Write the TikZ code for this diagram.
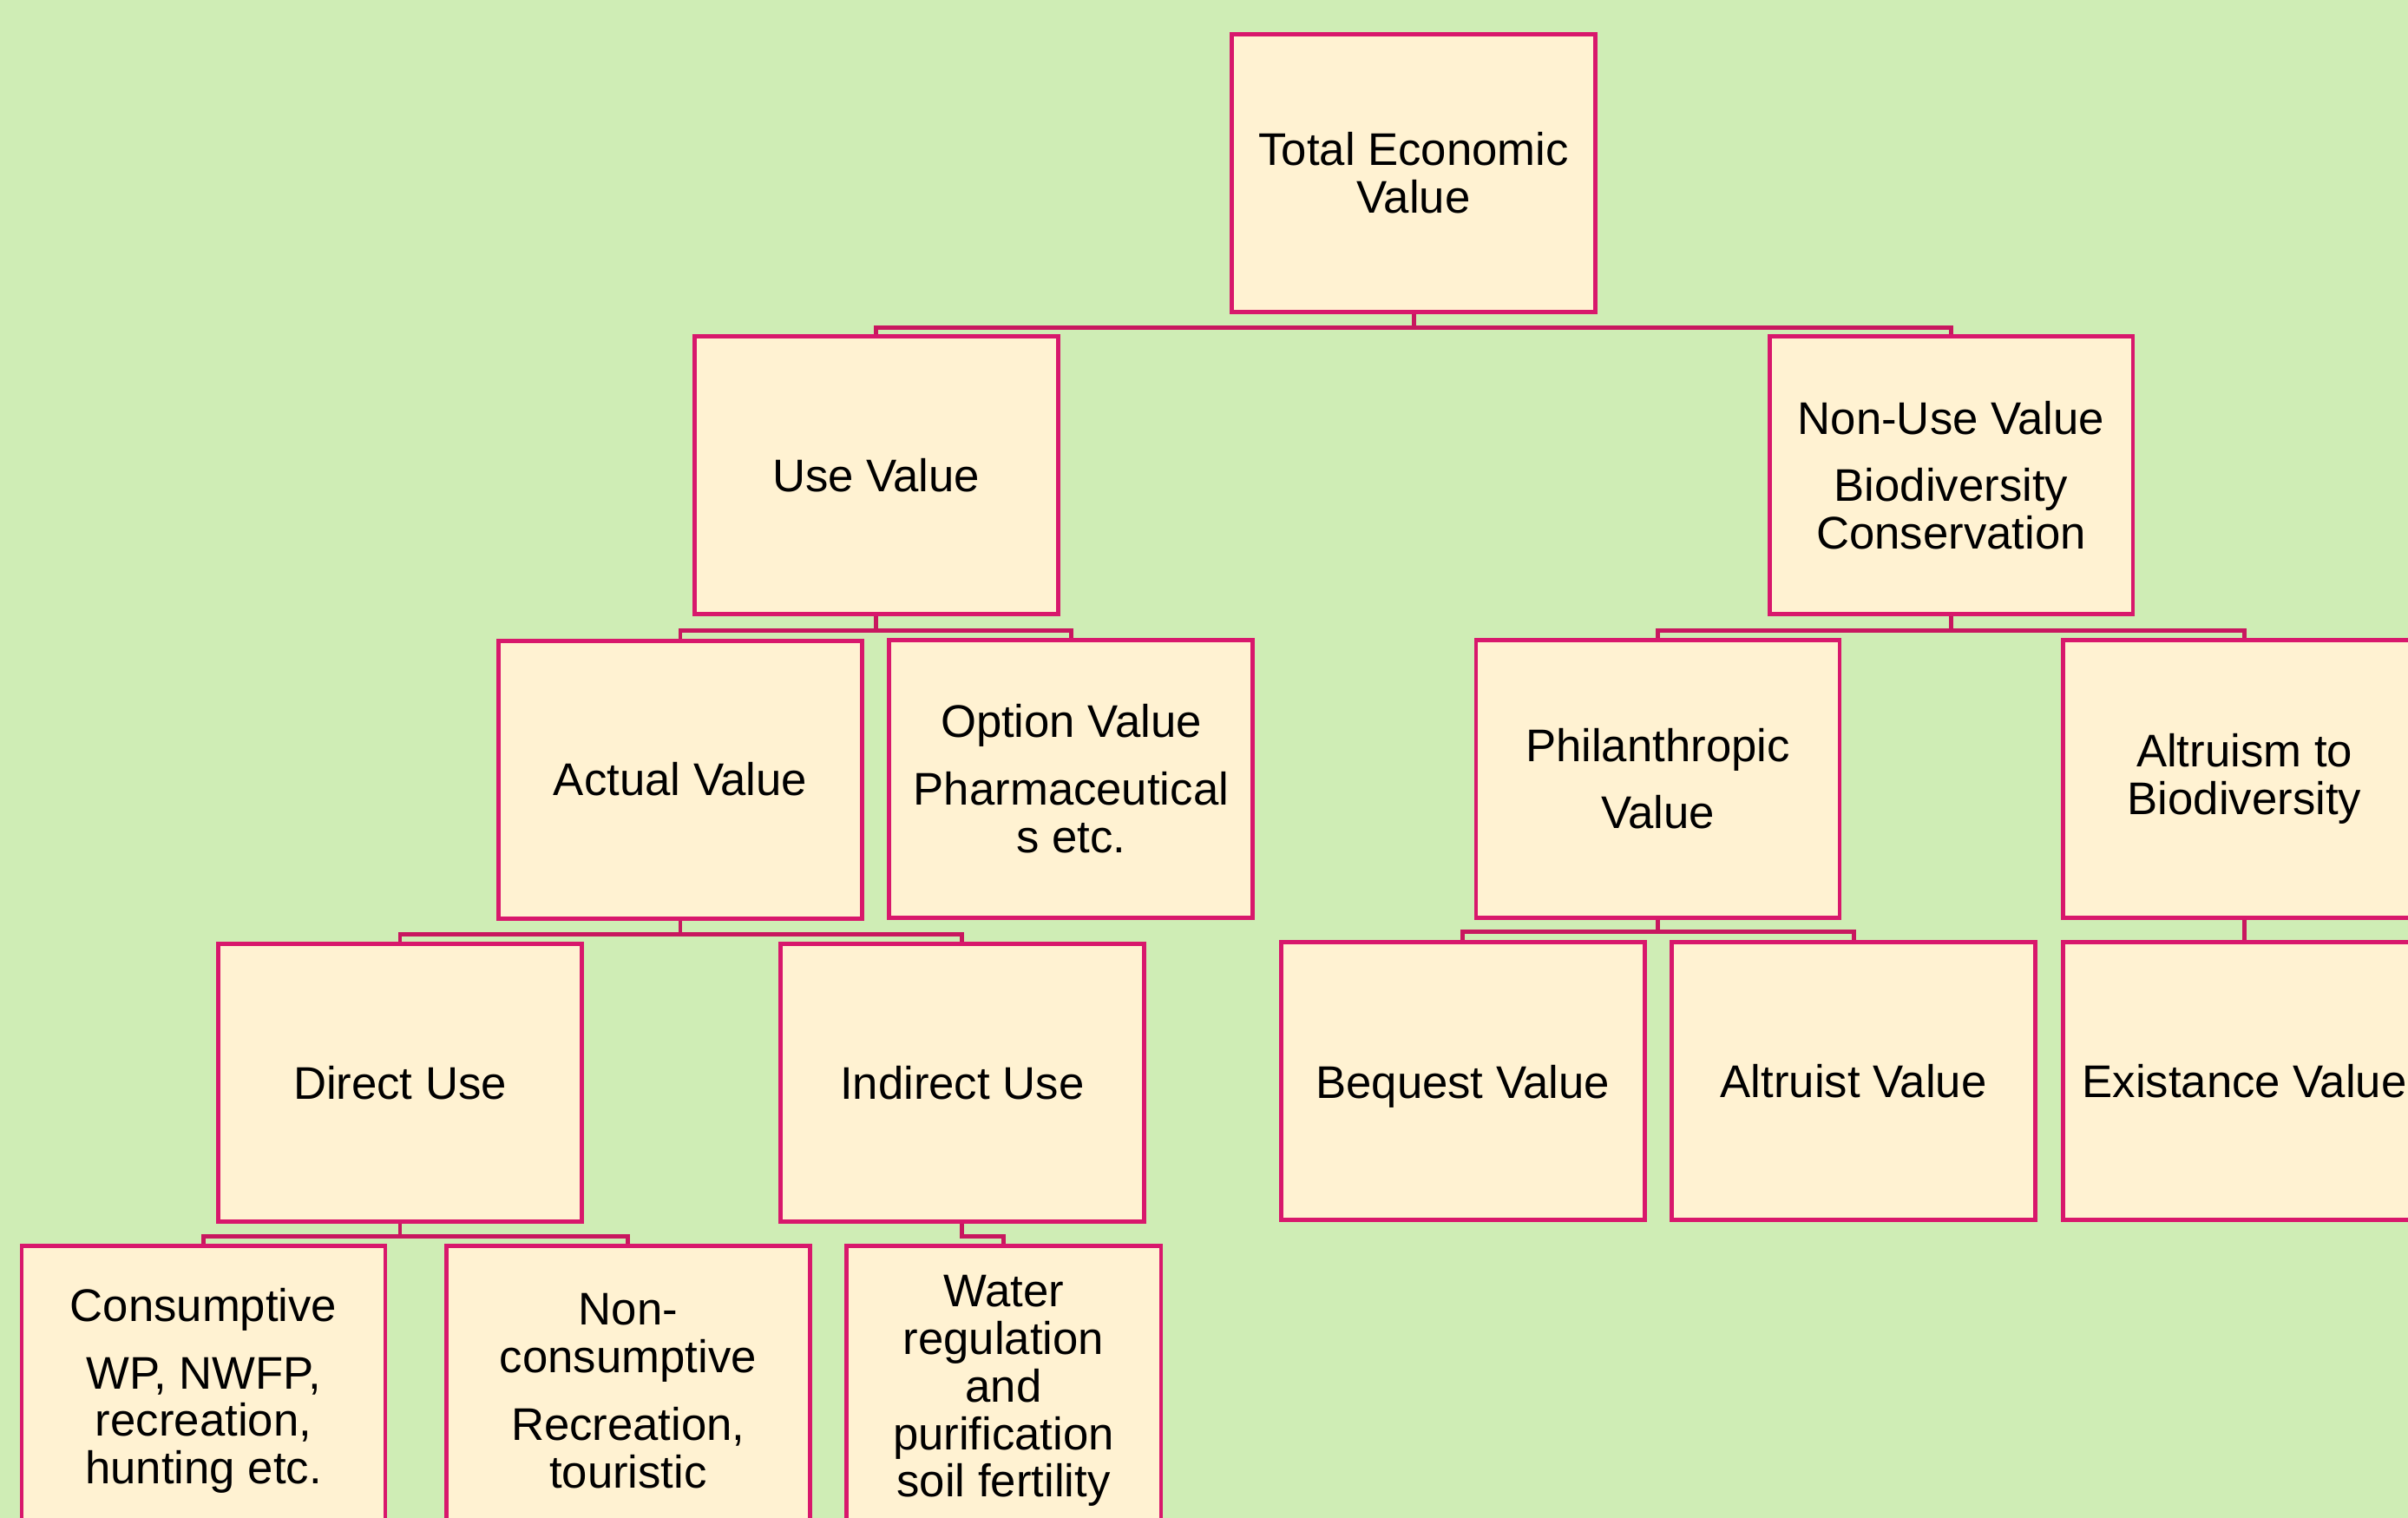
\documentclass[tikz,border=0pt]{standalone}
\usepackage{fontspec}
\setmainfont{Liberation Sans}
\usepackage{tikz}

\definecolor{bgcol}{HTML}{CFEDB5}
\definecolor{boxcol}{HTML}{FFF2D2}
\definecolor{edgecol}{HTML}{D8186C}
\definecolor{linkcol}{HTML}{C8175F}

\tikzset{
  valbox/.style={draw=edgecol, fill=boxcol, line width=1.4pt, align=center,
    minimum width=4.19cm, minimum height=3.2cm, inner sep=0pt,
    font=\fontsize{15}{15.6}\selectfont},
  lowbox/.style={valbox, minimum height=3.35cm},
  link/.style={draw=linkcol, line width=1.4pt}
}

\begin{document}
\begin{tikzpicture}[x=0.017698cm, y=-0.017698cm]
    \fill[bgcol] (0,0) rectangle (1568,988);
    \clip (0,0) rectangle (1568,988);
    \useasboundingbox (0,0) rectangle (1568,988);
    \node[valbox] (tev) at (920.5,112.5) {Total Economic\\Value};
    \node[valbox] (use) at (570.5,309.5) {Use Value};
    \node[valbox] (nonuse) at (1270.5,309.5) {Non-Use Value\\[6.5pt]Biodiversity\\Conservation};
    \node[valbox] (actual) at (443,507.5) {Actual Value};
    \node[valbox] (option) at (697.5,507) {Option Value\\[6.5pt]Pharmaceutical\\s etc.};
    \node[valbox] (phil) at (1079.5,507) {Philanthropic\\[6.5pt]Value};
    \node[valbox] (altruism) at (1461.5,507) {Altruism to\\Biodiversity};
    \node[valbox] (direct) at (260.5,705) {Direct Use};
    \node[valbox] (indirect) at (626.5,705) {Indirect Use};
    \node[valbox, text depth=0pt] (bequest) at (952.5,704) {Bequest Value};
    \node[valbox] (altruist) at (1207,704) {Altruist Value};
    \node[valbox] (exist) at (1461.5,704) {Existance Value};
    \node[lowbox] (consum) at (132.5,905.5) {Consumptive\\[6.5pt]WP, NWFP,\\recreation,\\hunting etc.};
    \node[lowbox] (noncons) at (409,905.5) {Non-\\consumptive\\[6.5pt]Recreation,\\touristic};
    \node[lowbox, minimum width=3.63cm] (water) at (653.5,905.5) {Water\\regulation\\and\\purification\\soil fertility};
    \draw[link] (tev.south) -- ++(0,9) -| (use.north);
    \draw[link] (tev.south) -- ++(0,9) -| (nonuse.north);
    \draw[link] (use.south) -- ++(0,9) -| (actual.north);
    \draw[link] (use.south) -- ++(0,9) -| (option.north);
    \draw[link] (nonuse.south) -- ++(0,9) -| (phil.north);
    \draw[link] (nonuse.south) -- ++(0,9) -| (altruism.north);
    \draw[link] (actual.south) -- ++(0,9) -| (direct.north);
    \draw[link] (actual.south) -- ++(0,9) -| (indirect.north);
    \draw[link] (phil.south) -- ++(0,8) -| (bequest.north);
    \draw[link] (phil.south) -- ++(0,8) -| (altruist.north);
    \draw[link] (altruism.south) -- (exist.north);
    \draw[link] (direct.south) -- ++(0,8) -| (consum.north);
    \draw[link] (direct.south) -- ++(0,8) -| (noncons.north);
    \draw[link] (indirect.south) -- ++(0,8) -| (water.north);
  \end{tikzpicture}
\end{document}
